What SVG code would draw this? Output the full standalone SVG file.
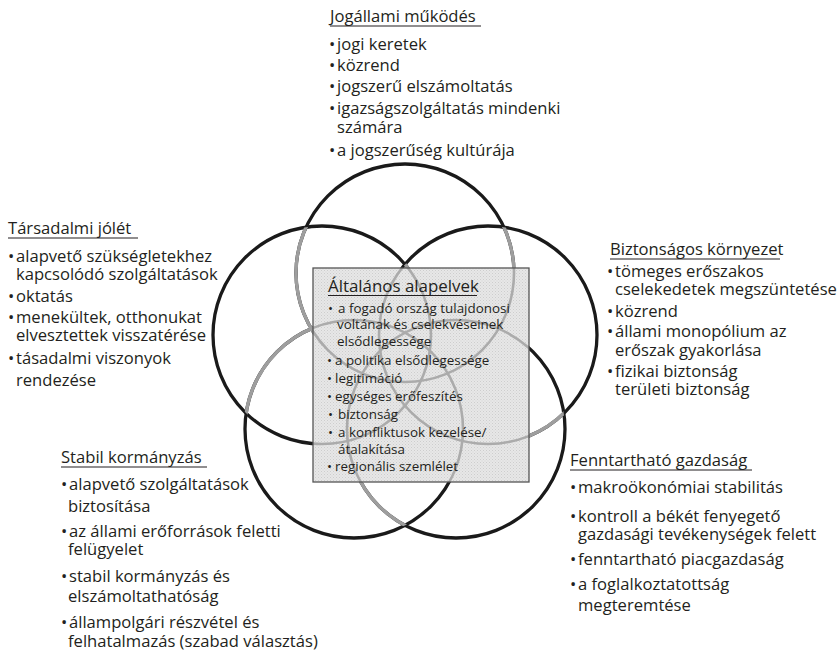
<svg xmlns="http://www.w3.org/2000/svg" width="837" height="652" viewBox="0 0 837 652">
<style>
.t{font-family:"Open Sans","Liberation Sans",sans-serif;font-size:16.6px;fill:#231f20}
.c{font-family:"Open Sans","Liberation Sans",sans-serif;font-size:13.4px;fill:#231f20}
.ct{font-family:"Open Sans","Liberation Sans",sans-serif;font-size:16.9px;fill:#231f20}
.ul{stroke:#231f20;stroke-width:1.2}
.blk{fill:none;stroke:#1a1a1a;stroke-width:3.3}
.gry{fill:none;stroke:#9e9e9e;stroke-width:3.4}
.inb{fill:none;stroke:#ababab;stroke-width:2.6}
</style>
<defs>
<pattern id="dots" width="3" height="3" patternUnits="userSpaceOnUse"><rect width="3" height="3" fill="#e7e7e7"/><rect width="1" height="1" fill="#cdcdcd"/><rect x="1.5" y="1.5" width="1" height="1" fill="#d6d6d6"/></pattern>
<clipPath id="outBox"><path clip-rule="evenodd" d="M0 0H837V652H0Z M313 268H529V482H313Z"/></clipPath>
<clipPath id="inBox"><rect x="313" y="268" width="216" height="214"/></clipPath>
<clipPath id="inLR"><circle cx="322" cy="335" r="109"/><circle cx="488" cy="335" r="109"/></clipPath>
<clipPath id="inR"><circle cx="488" cy="335" r="109"/></clipPath>
<clipPath id="inBR"><circle cx="456" cy="429" r="109"/></clipPath>
<clipPath id="inBL"><circle cx="354" cy="429" r="109"/></clipPath>
<clipPath id="inL"><circle cx="322" cy="335" r="109"/></clipPath>
</defs>
<rect width="837" height="652" fill="#ffffff"/>

<g id="box-fill"><rect x="313" y="268" width="216" height="214" fill="url(#dots)"/></g>

<g id="connectors">
<g clip-path="url(#outBox)">
<circle class="blk" cx="405" cy="273" r="109"/>
<circle class="blk" cx="488" cy="335" r="109"/>
<circle class="blk" cx="456" cy="429" r="109"/>
<circle class="blk" cx="354" cy="429" r="109"/>
<circle class="blk" cx="322" cy="335" r="109"/>
<circle class="gry" cx="405" cy="273" r="109" clip-path="url(#inLR)"/>
<circle class="gry" cx="488" cy="335" r="109" clip-path="url(#inBR)"/>
<circle class="gry" cx="456" cy="429" r="109" clip-path="url(#inBL)"/>
<circle class="gry" cx="354" cy="429" r="109" clip-path="url(#inL)"/>
<circle class="gry" cx="322" cy="335" r="109" clip-path="url(#inR)"/>
</g>
<g clip-path="url(#inBox)">
<circle class="inb" cx="405" cy="273" r="109"/>
<circle class="inb" cx="488" cy="335" r="109"/>
<circle class="inb" cx="456" cy="429" r="109"/>
<circle class="inb" cx="354" cy="429" r="109"/>
<circle class="inb" cx="322" cy="335" r="109"/>
</g>
</g>

<g id="node-center">
<rect x="313" y="268" width="216" height="214" fill="none" stroke="#555" stroke-width="1.3"/>
<text class="ct" x="328" y="292">Általános alapelvek</text>
<line class="ul" x1="328" y1="295.5" x2="477" y2="295.5"/>
<text class="c" x="328" y="313">•</text><text class="c" x="338" y="313">a fogadó ország tulajdonosi</text>
<text class="c" x="337" y="329">voltának és cselekvéseinek</text>
<text class="c" x="337" y="346">elsődlegessége</text>
<text class="c" x="327" y="365">•</text><text class="c" x="335" y="365">a politika elsődlegessége</text>
<text class="c" x="327" y="383">•</text><text class="c" x="335" y="383">legitimáció</text>
<text class="c" x="327" y="401">•</text><text class="c" x="335" y="401">egységes erőfeszítés</text>
<text class="c" x="328" y="419">•</text><text class="c" x="338" y="419">biztonság</text>
<text class="c" x="328" y="437">•</text><text class="c" x="338" y="437">a konfliktusok kezelése/</text>
<text class="c" x="338" y="454">átalakítása</text>
<text class="c" x="327" y="471">•</text><text class="c" x="335" y="471">regionális szemlélet</text>
</g>

<g id="node-top">
<text class="t" x="330" y="22">Jogállami működés</text>
<line class="ul" x1="330" y1="26" x2="481" y2="26"/>
<text class="t" x="329" y="50">•</text><text class="t" x="337" y="50">jogi keretek</text>
<text class="t" x="329" y="71">•</text><text class="t" x="337" y="71">közrend</text>
<text class="t" x="329" y="92">•</text><text class="t" x="337" y="92">jogszerű elszámoltatás</text>
<text class="t" x="329" y="114">•</text><text class="t" x="337" y="114">igazságszolgáltatás mindenki</text>
<text class="t" x="337" y="133">számára</text>
<text class="t" x="329" y="156">•</text><text class="t" x="337" y="156">a jogszerűség kultúrája</text>
</g>

<g id="node-left">
<text class="t" x="8" y="234">Társadalmi jólét</text>
<line class="ul" x1="8" y1="238" x2="138" y2="238"/>
<text class="t" x="8" y="262">•</text><text class="t" x="16" y="262">alapvető szükségletekhez</text>
<text class="t" x="16" y="280">kapcsolódó szolgáltatások</text>
<text class="t" x="8" y="302">•</text><text class="t" x="16" y="302">oktatás</text>
<text class="t" x="8" y="323">•</text><text class="t" x="16" y="323">menekültek, otthonukat</text>
<text class="t" x="16" y="341">elvesztettek visszatérése</text>
<text class="t" x="8" y="364">•</text><text class="t" x="16" y="364">tásadalmi viszonyok</text>
<text class="t" x="16" y="386">rendezése</text>
</g>

<g id="node-right">
<text class="t" x="610" y="255">Biztonságos környezet</text>
<line class="ul" x1="610" y1="259" x2="780" y2="259"/>
<text class="t" x="607" y="277">•</text><text class="t" x="615" y="277">tömeges erőszakos</text>
<text class="t" x="615" y="295">cselekedetek megszüntetése</text>
<text class="t" x="607" y="317">•</text><text class="t" x="615" y="317">közrend</text>
<text class="t" x="607" y="337">•</text><text class="t" x="615" y="337">állami monopólium az</text>
<text class="t" x="615" y="356">erőszak gyakorlása</text>
<text class="t" x="607" y="377">•</text><text class="t" x="615" y="377">fizikai biztonság</text>
<text class="t" x="615" y="395">területi biztonság</text>
</g>

<g id="node-bottom-left">
<text class="t" x="61" y="463">Stabil kormányzás</text>
<line class="ul" x1="61" y1="467" x2="207" y2="467"/>
<text class="t" x="61" y="490">•</text><text class="t" x="69" y="490">alapvető szolgáltatások</text>
<text class="t" x="68" y="512">biztosítása</text>
<text class="t" x="61" y="537">•</text><text class="t" x="69" y="537">az állami erőforrások feletti</text>
<text class="t" x="68" y="555">felügyelet</text>
<text class="t" x="61" y="582">•</text><text class="t" x="69" y="582">stabil kormányzás és</text>
<text class="t" x="68" y="602">elszámoltathatóság</text>
<text class="t" x="61" y="628">•</text><text class="t" x="69" y="628">állampolgári részvétel és</text>
<text class="t" x="68" y="647">felhatalmazás (szabad választás)</text>
</g>

<g id="node-bottom-right">
<text class="t" x="570" y="466">Fenntartható gazdaság</text>
<line class="ul" x1="570" y1="470" x2="752" y2="470"/>
<text class="t" x="570" y="493">•</text><text class="t" x="578" y="493">makroökonómiai stabilitás</text>
<text class="t" x="570" y="522">•</text><text class="t" x="578" y="522">kontroll a békét fenyegető</text>
<text class="t" x="578" y="540">gazdasági tevékenységek felett</text>
<text class="t" x="570" y="565">•</text><text class="t" x="578" y="565">fenntartható piacgazdaság</text>
<text class="t" x="570" y="590">•</text><text class="t" x="578" y="590">a foglalkoztatottság</text>
<text class="t" x="578" y="611">megteremtése</text>
</g>
</svg>
